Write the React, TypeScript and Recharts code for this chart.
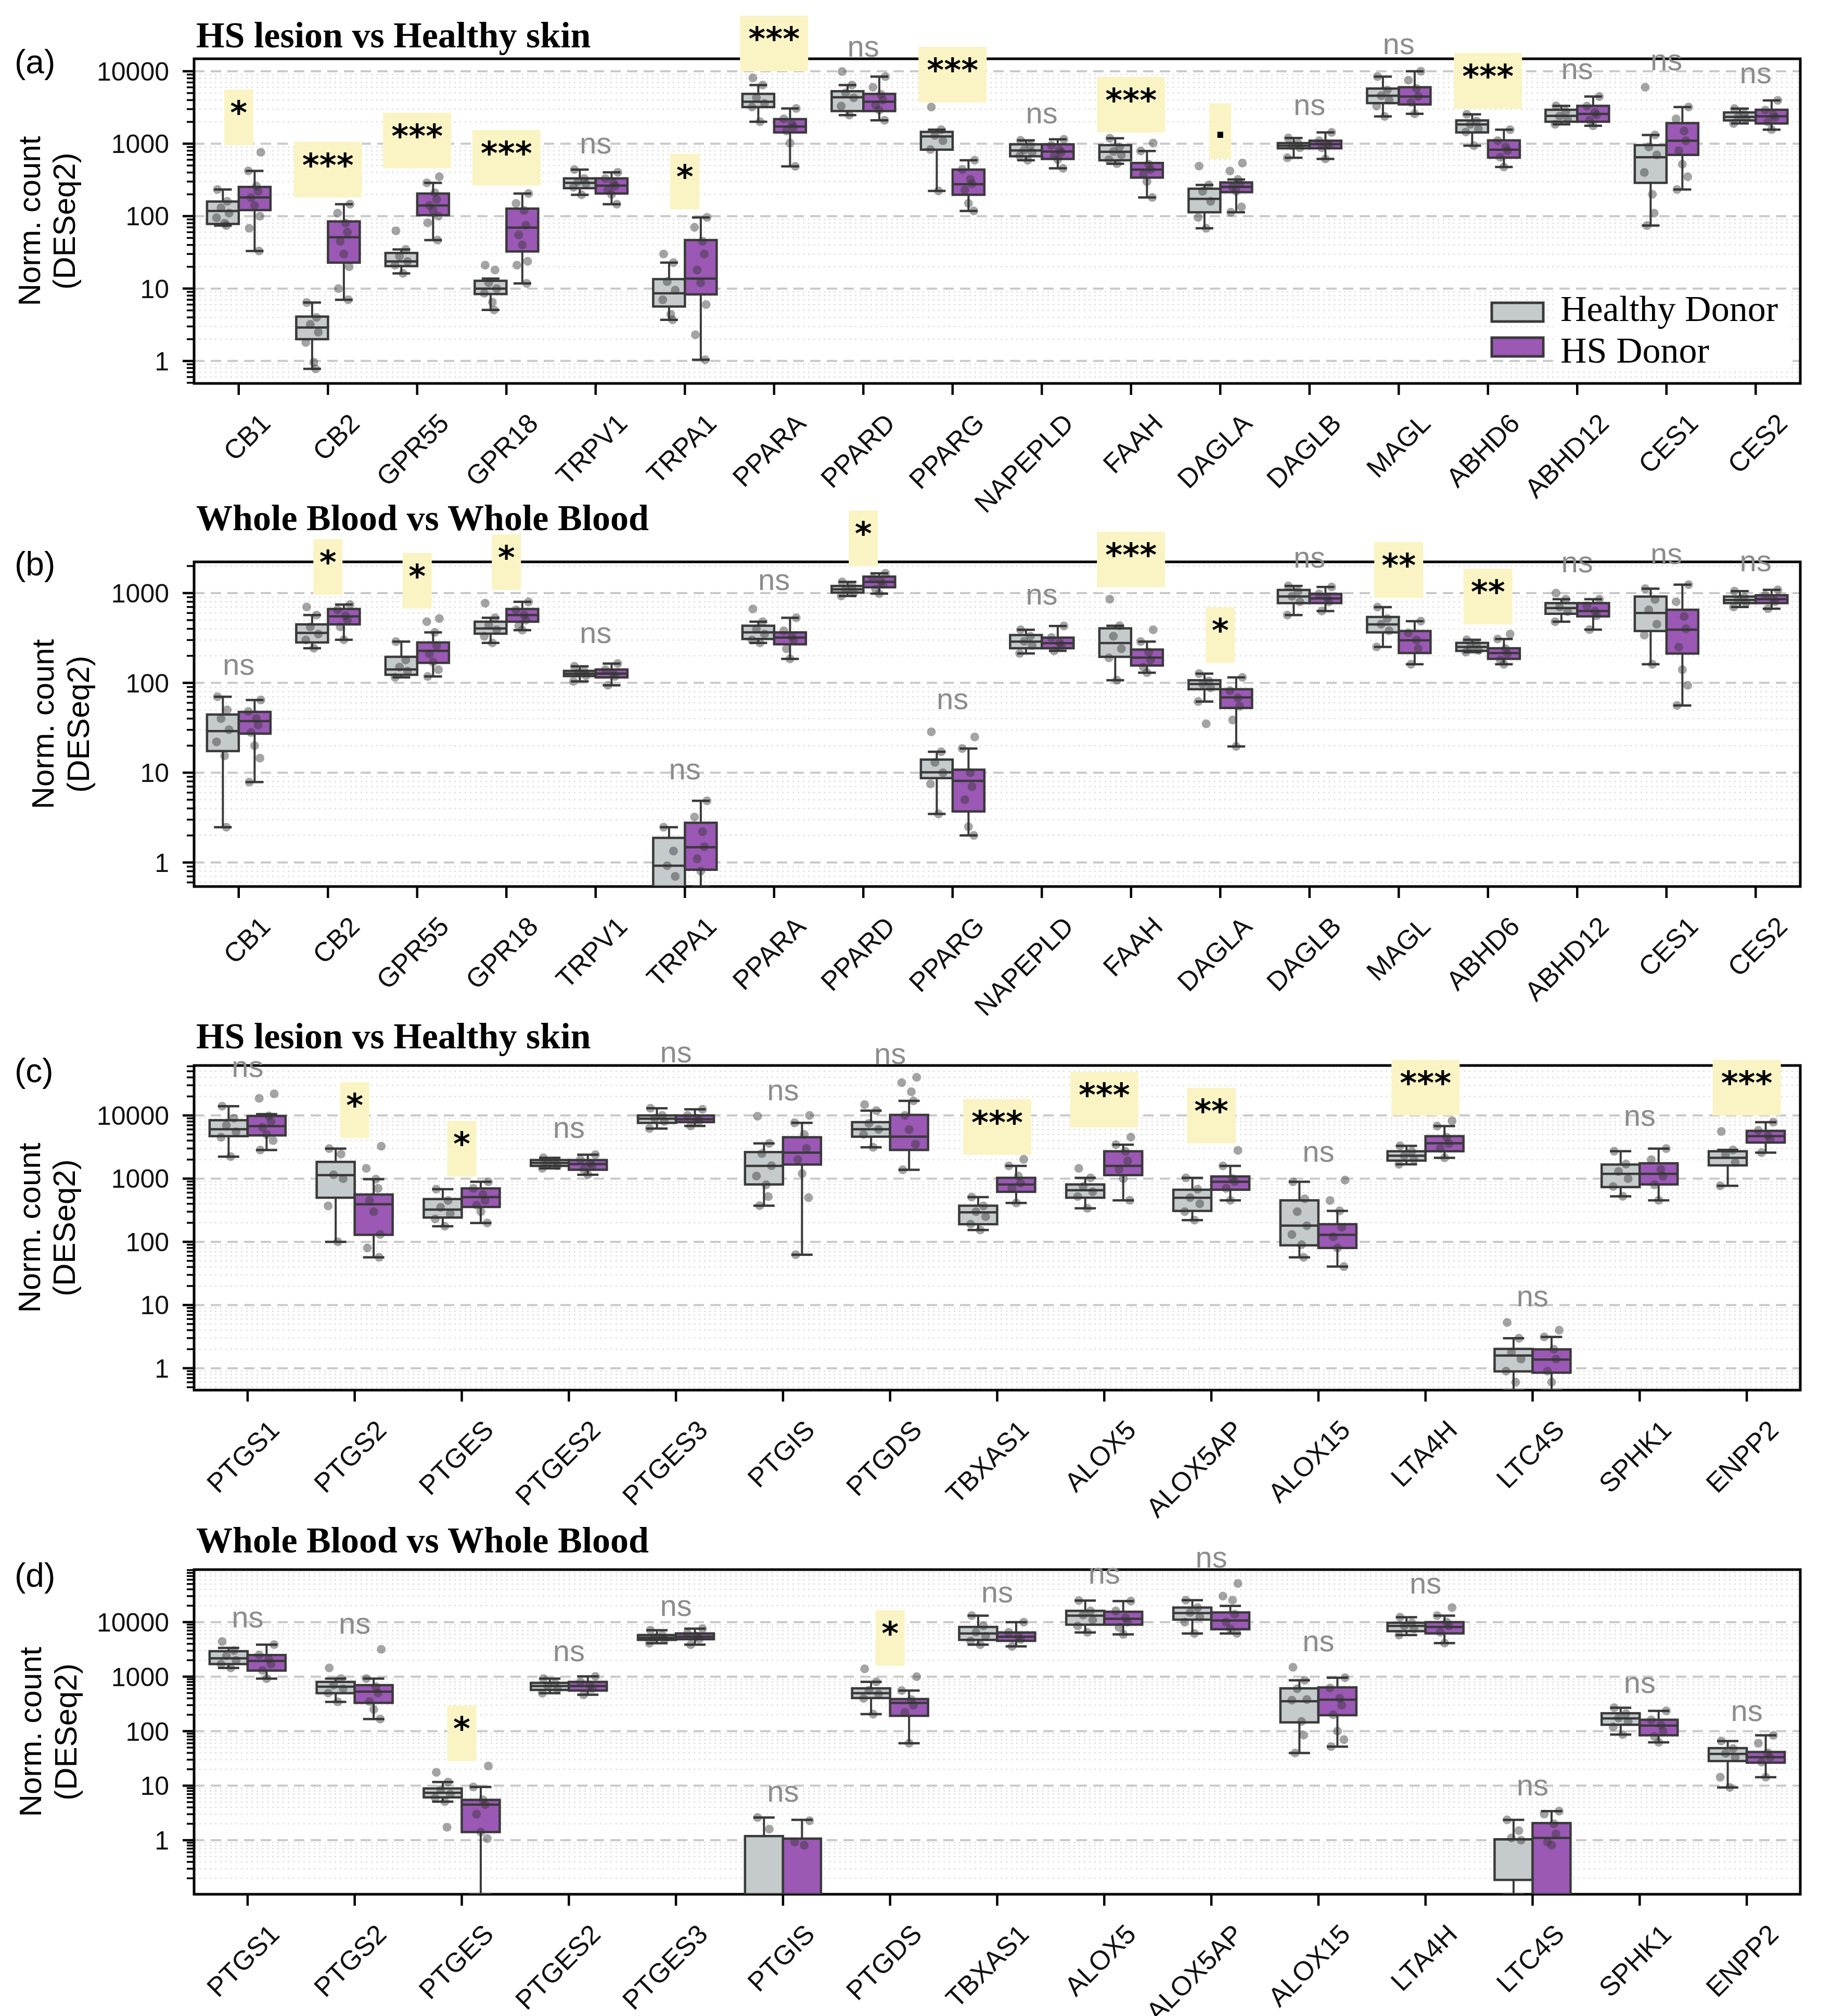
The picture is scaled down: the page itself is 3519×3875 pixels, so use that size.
import React from 'react';
import {
  ComposedChart,
  XAxis,
  YAxis,
  Bar,
  Scatter,
  CartesianGrid,
  ReferenceDot,
  ReferenceArea,
} from 'recharts';

// ---------- categories ----------
const GENES_EC = ['CB1', 'CB2', 'GPR55', 'GPR18', 'TRPV1', 'TRPA1', 'PPARA', 'PPARD', 'PPARG', 'NAPEPLD', 'FAAH', 'DAGLA', 'DAGLB', 'MAGL', 'ABHD6', 'ABHD12', 'CES1', 'CES2'];
const GENES_EIC = ['PTGS1', 'PTGS2', 'PTGES', 'PTGES2', 'PTGES3', 'PTGIS', 'PTGDS', 'TBXAS1', 'ALOX5', 'ALOX5AP', 'ALOX15', 'LTA4H', 'LTC4S', 'SPHK1', 'ENPP2'];

const GROUPS = ['Healthy Donor', 'HS Donor'];
const TITLES = ['HS lesion vs Healthy skin', 'Whole Blood vs Whole Blood', 'HS lesion vs Healthy skin', 'Whole Blood vs Whole Blood'];
const PANEL_TAGS = ['(a)', '(b)', '(c)', '(d)'];
const Y_TITLE = ['Norm. count', '(DESeq2)'];

// ---------- y axis ----------
const MAJOR_A = [1, 10, 100, 1000, 10000];
const MAJOR_B = [1, 10, 100, 1000];
const MAJOR_C = [1, 10, 100, 1000, 10000];
const MAJOR_D = [1, 10, 100, 1000, 10000];
const DOMAIN_A: [number, number] = [0.49, 14860];
const DOMAIN_B: [number, number] = [0.54, 2225];
const DOMAIN_C: [number, number] = [0.45, 61700];
const DOMAIN_D: [number, number] = [0.102, 91800];

// box statistics per gene: [lower whisker, Q1, median, Q3, upper whisker]
// ---------- (a) skin, endocannabinoid genes ----------
const A_HD_BOX = [
  [74, 78, 118, 159, 233],
  [0.78, 2.0, 2.9, 4.1, 6.4],
  [16.2, 20.4, 23.7, 31, 34.6],
  [5.07, 8.4, 10, 12.8, 13.7],
  [197, 243, 288, 332, 439],
  [3.7, 5.65, 8.6, 13.5, 22.8],
  [2010, 3200, 3790, 4870, 6440],
  [2480, 2820, 4370, 5300, 6440],
  [223, 827, 1260, 1455, 1560],
  [590, 670, 806, 980, 1110],
  [528, 590, 773, 955, 1190],
  [68, 113, 173, 239, 269],
  [640, 863, 938, 1020, 1200],
  [2380, 3630, 4590, 5770, 8450],
  [938, 1430, 1845, 2095, 2540],
  [1850, 2010, 2420, 2940, 3330],
  [74, 288, 650, 955, 1316],
  [1900, 2095, 2340, 2700, 3050],
];
const A_HS_BOX = [
  [33, 121, 181, 253, 421],
  [7, 22.8, 51, 84.5, 146],
  [46.6, 103, 140, 205, 288],
  [11.8, 32.5, 69.5, 127, 205],
  [146, 205, 264, 332, 403],
  [1.04, 8.3, 13.7, 46.7, 96],
  [486, 1430, 1725, 2185, 3060],
  [2100, 2820, 3790, 4870, 8450],
  [118, 197, 276, 439, 590],
  [457, 615, 780, 980, 1150],
  [181, 340, 439, 542, 793],
  [113, 214, 253, 292, 320],
  [615, 863, 986, 1100, 1430],
  [2590, 3480, 4480, 6020, 10000],
  [477, 641, 827, 1112, 1560],
  [1770, 2010, 2575, 3330, 4480],
  [233, 700, 1100, 1925, 3200],
  [1560, 1900, 2390, 2940, 3960],
];
const A_HD_PTS = [
  [233, 160, 130, 110, 95, 80, 74],
  [6.4, 4, 3.2, 2.5, 1.8, 0.96, 0.78],
  [62.7, 34.6, 28, 23.7, 21, 16.2],
  [21, 18, 12, 10, 8.6, 6.5, 5.07],
  [439, 330, 300, 280, 250, 197],
  [30, 22.8, 12.5, 9.5, 7, 4.4, 3.7],
  [8100, 6440, 4300, 3600, 3200, 2010],
  [9900, 6440, 5000, 4300, 3300, 2480],
  [3200, 1560, 1300, 1100, 830, 223],
  [1110, 950, 820, 760, 680, 590],
  [1190, 900, 780, 700, 600, 528],
  [490, 269, 220, 160, 96, 68],
  [1200, 1010, 940, 880, 640],
  [8450, 5500, 4600, 4000, 3300, 2380],
  [2540, 2050, 1850, 1600, 1450, 938],
  [3330, 2800, 2400, 2150, 1850],
  [6000, 1316, 900, 700, 400, 200, 110, 74],
  [3050, 2600, 2350, 2200, 1900],
];
const A_HS_PTS = [
  [760, 421, 260, 220, 180, 140, 100, 68, 33],
  [146, 110, 80, 60, 45, 30, 20, 10, 7],
  [350, 288, 210, 170, 140, 120, 100, 81, 46.6],
  [205, 150, 120, 75, 55, 40, 23.8, 21, 11.8],
  [403, 330, 290, 260, 230, 200, 146],
  [96, 70, 45, 30, 18, 12, 6, 2.3, 1.04],
  [3060, 2200, 1900, 1700, 1500, 1020, 486],
  [8450, 6000, 4800, 4000, 3400, 2900, 2100],
  [590, 440, 320, 280, 230, 150, 118],
  [1150, 950, 820, 760, 680, 600, 457],
  [1020, 793, 520, 440, 380, 300, 181],
  [540, 420, 320, 280, 250, 220, 134, 113],
  [1430, 1100, 1000, 950, 880, 615],
  [10000, 7500, 5800, 4500, 3700, 2590],
  [1560, 1100, 900, 800, 650, 477],
  [4480, 3300, 2700, 2500, 2100, 1770],
  [3200, 2200, 1500, 1100, 800, 520, 350, 233],
  [3960, 2900, 2500, 2300, 2000, 1560],
];
const A_SIG = ['*', '***', '***', '***', 'ns', '*', '***', 'ns', '***', 'ns', '***', '.', 'ns', 'ns', '***', 'ns', 'ns', 'ns'];
const A_SIG_AT = [955, 181, 457, 264, 728, 124, 10000, 15900, 3690, 1925, 1430, 615, 2480, 17300, 3060, 7760, 10400, 6840];

// ---------- (b) blood, endocannabinoid genes ----------
const B_HD_BOX = [
  [2.47, 17.4, 29, 44.4, 70],
  [243, 282, 360, 448, 569],
  [115, 123, 141, 195, 288],
  [279, 353, 404, 480, 531],
  [104, 119, 127, 136, 153],
  [0.54, 0.54, 0.92, 1.88, 2.47],
  [279, 308, 365, 433, 480],
  [930, 1013, 1100, 1200, 1330],
  [3.47, 8.7, 10.1, 14, 17.1],
  [213, 243, 288, 341, 390],
  [107, 195, 278, 405, 433],
  [62, 85, 97, 107, 127],
  [569, 773, 915, 1084, 1200],
  [251, 365, 448, 542, 697],
  [220, 227, 251, 279, 302],
  [480, 588, 682, 773, 855],
  [161, 378, 600, 915, 1120],
  [700, 773, 838, 915, 1050],
];
const B_HS_BOX = [
  [7.85, 27.2, 37.5, 47.5, 64.5],
  [302, 448, 550, 665, 746],
  [118, 167, 227, 282, 365],
  [386, 480, 569, 665, 798],
  [94, 115, 127, 141, 164],
  [0.54, 0.83, 1.48, 2.77, 4.87],
  [185, 269, 319, 365, 531],
  [985, 1160, 1330, 1525, 1660],
  [2.0, 3.7, 8.1, 10.8, 18.6],
  [227, 243, 277, 319, 430],
  [130, 156, 191, 235, 288],
  [19.6, 52.6, 69, 85, 115],
  [630, 773, 872, 980, 1170],
  [161, 215, 298, 378, 486],
  [161, 185, 215, 243, 308],
  [391, 550, 630, 773, 855],
  [56, 212, 391, 652, 1240],
  [670, 773, 855, 946, 1085],
];
const B_HD_PTS = [
  [70, 50, 40, 30, 22, 15.4, 2.47],
  [700, 569, 420, 350, 300, 243],
  [288, 180, 150, 135, 115],
  [770, 531, 440, 390, 330, 279],
  [153, 135, 128, 120, 104],
  [2.47, 1.34, 0.92, 0.7],
  [665, 480, 400, 350, 300, 279],
  [1330, 1200, 1100, 1000, 930],
  [28.5, 17.1, 13, 10, 7.5, 3.47],
  [390, 330, 290, 260, 213],
  [855, 433, 330, 240, 190, 107],
  [127, 105, 97, 88, 62, 35],
  [1200, 1050, 920, 800, 569],
  [697, 520, 450, 380, 251],
  [302, 270, 250, 230, 220],
  [1000, 855, 700, 620, 480],
  [1120, 850, 650, 450, 340, 161],
  [1050, 900, 840, 780, 700],
];
const B_HS_PTS = [
  [64.5, 48, 40, 34, 28, 20, 14.5, 7.85],
  [746, 650, 560, 500, 420, 302],
  [520, 480, 365, 260, 210, 170, 140, 118],
  [798, 650, 570, 500, 430, 386],
  [164, 140, 128, 118, 94],
  [4.87, 3.2, 2.2, 1.5, 1.1, 0.8],
  [531, 380, 330, 300, 240, 185],
  [1660, 1450, 1350, 1250, 1100, 985],
  [25, 18.6, 10, 7, 5, 2.5, 2.0],
  [430, 320, 280, 260, 227],
  [390, 288, 220, 180, 150, 130],
  [115, 82, 68, 55, 38.6, 19.6],
  [1170, 980, 880, 800, 630],
  [486, 360, 300, 240, 161],
  [350, 308, 240, 210, 180, 161],
  [855, 720, 630, 560, 391],
  [1240, 800, 550, 400, 250, 140, 94, 56],
  [1085, 940, 860, 800, 670],
];
const B_SIG = ['ns', '*', '*', '*', 'ns', 'ns', 'ns', '*', 'ns', 'ns', '***', '*', 'ns', '**', '**', 'ns', 'ns', 'ns'];
const B_SIG_AT = [123, 959, 673, 1084, 279, 8.4, 1084, 2000, 51, 746, 1160, 167, 1930, 885, 448, 1710, 2100, 1745];

// ---------- (c) skin, eicosanoid genes ----------
const C_HD_BOX = [
  [2230, 4700, 6040, 8400, 14000],
  [100, 499, 1135, 1840, 2990],
  [176, 242, 323, 475, 680],
  [1450, 1590, 1770, 1970, 2130],
  [6210, 7620, 8900, 10000, 13000],
  [373, 809, 1590, 2630, 3610],
  [3130, 4610, 6040, 7830, 11900],
  [154, 190, 293, 373, 509],
  [339, 499, 654, 809, 1030],
  [220, 308, 499, 667, 1030],
  [56.8, 88, 181, 453, 890],
  [1680, 1930, 2300, 2710, 3300],
  [0.45, 0.89, 1.59, 2.02, 2.98],
  [524, 735, 1190, 1670, 2710],
  [771, 1620, 2130, 2710, 2850],
];
const C_HS_BOX = [
  [2840, 4830, 6780, 9800, 10500],
  [56.8, 129, 392, 561, 982],
  [199, 356, 509, 700, 890],
  [1150, 1380, 1700, 1970, 2390],
  [6800, 7830, 8700, 10000, 12500],
  [62.5, 1670, 2580, 4520, 7630],
  [1380, 2840, 4610, 10200, 17000],
  [411, 618, 809, 1030, 1590],
  [453, 1135, 1590, 2710, 3450],
  [453, 667, 890, 1082, 1590],
  [40.5, 80, 129, 190, 308],
  [2130, 2710, 3620, 4700, 6780],
  [0.45, 0.85, 1.37, 1.99, 3.13],
  [453, 809, 1190, 1750, 2990],
  [2580, 3720, 4700, 5700, 7830],
];
const C_HD_PTS = [
  [14000, 9000, 7000, 5500, 4500, 2230],
  [2990, 2450, 1150, 1000, 370, 100],
  [680, 450, 350, 280, 230, 176],
  [2130, 1900, 1750, 1600, 1450],
  [13000, 10000, 9000, 8000, 6210],
  [9700, 3610, 2500, 1600, 1100, 800, 520, 373],
  [14800, 11900, 7500, 6000, 5000, 3130],
  [509, 370, 300, 250, 190, 154],
  [1450, 1030, 750, 620, 520, 339],
  [1030, 680, 500, 400, 300, 220],
  [890, 480, 300, 180, 130, 90, 56.8],
  [3300, 2700, 2300, 2000, 1680],
  [5.3, 2.98, 1.8, 1.4, 0.9, 0.6],
  [2710, 1700, 1300, 1000, 750, 524],
  [5570, 2850, 2400, 1800, 771],
];
const C_HS_PTS = [
  [22000, 18600, 9800, 8000, 6500, 5000, 4000, 2840],
  [3250, 1450, 982, 700, 450, 300, 130, 80, 56.8],
  [890, 700, 560, 450, 380, 300, 199],
  [2390, 2000, 1750, 1600, 1400, 1150],
  [12500, 10000, 9000, 8200, 6800],
  [10000, 7630, 5000, 3000, 2000, 1200, 500, 62.5],
  [40000, 33000, 23700, 17000, 10000, 6000, 3500, 1380],
  [2020, 1590, 1100, 850, 700, 411],
  [4540, 3450, 2700, 1900, 1400, 1000, 453],
  [2800, 1590, 1000, 900, 700, 453],
  [950, 450, 308, 170, 120, 80, 40.5],
  [8200, 6780, 4500, 3600, 3000, 2130],
  [4.0, 3.13, 2.0, 1.4, 0.9, 0.6],
  [2990, 2000, 1400, 1100, 800, 453],
  [7830, 5800, 4800, 4200, 2580],
];
const C_SIG = ['ns', '*', '*', 'ns', 'ns', 'ns', 'ns', '***', '***', '**', 'ns', '***', 'ns', 'ns', '***'];
const C_SIG_AT = [40500, 4400, 1080, 4400, 68900, 17300, 65700, 2390, 6460, 3620, 1840, 10000, 9.5, 6780, 10000];

// ---------- (d) blood, eicosanoid genes ----------
const D_HD_BOX = [
  [1440, 1700, 2170, 2930, 3360],
  [344, 497, 653, 801, 918],
  [5.1, 6.1, 7.4, 8.9, 11.7],
  [498, 570, 671, 769, 918],
  [4100, 4720, 5200, 5800, 7100],
  [0.102, 0.102, 0.102, 1.19, 2.6],
  [205, 405, 497, 610, 801],
  [3850, 4720, 6200, 8150, 13150],
  [6460, 8970, 13150, 16100, 24900],
  [6200, 11100, 14650, 18500, 25300],
  [39.8, 145, 353, 610, 858],
  [5800, 6820, 8490, 9730, 12300],
  [0.102, 0.187, 1.04, 1.04, 2.36],
  [86.7, 131, 171, 213, 269],
  [9.25, 28.3, 38.2, 48.9, 66],
];
const D_HS_BOX = [
  [918, 1290, 1945, 2490, 3850],
  [167, 330, 532, 699, 918],
  [0.102, 1.41, 4.5, 5.5, 9.5],
  [465, 555, 671, 801, 1010],
  [3850, 4850, 5400, 6200, 7600],
  [0.102, 0.102, 0.102, 1.07, 2.36],
  [60, 191, 330, 389, 555],
  [3590, 4530, 5400, 6460, 10000],
  [5950, 8970, 11500, 15500, 24300],
  [6200, 7400, 10700, 15050, 19800],
  [52, 196, 378, 635, 957],
  [4120, 6200, 8150, 10000, 13150],
  [0.102, 0.102, 1.1, 2.06, 3.42],
  [62.5, 84, 127, 162, 235],
  [14.3, 26.4, 33.4, 41.5, 84],
];
const D_HD_PTS = [
  [4400, 3000, 2400, 2000, 1700, 1440],
  [1440, 918, 700, 600, 500, 344],
  [17.5, 11.7, 8.5, 7, 6, 5.1, 1.73],
  [918, 760, 680, 600, 498],
  [7100, 5800, 5200, 4800, 4100],
  [2.6, 1.6],
  [1390, 801, 560, 480, 400, 205],
  [13150, 8500, 6500, 5500, 4500, 3850],
  [24900, 16000, 13500, 11000, 8500, 6460],
  [25300, 18500, 15000, 12500, 10000, 6200],
  [1480, 858, 600, 380, 370, 150, 85, 39.8],
  [12300, 9700, 8500, 7500, 5800],
  [2.36, 1.5, 1.1, 1.0],
  [269, 210, 175, 150, 120, 86.7],
  [66, 48, 39, 33, 14.3, 9.25],
];
const D_HS_PTS = [
  [3850, 2500, 2100, 1700, 1300, 918],
  [3160, 918, 650, 500, 350, 250, 167],
  [23, 9.5, 5.5, 4.5, 3, 1.41, 1.07],
  [1010, 800, 700, 600, 465],
  [7600, 6200, 5500, 4900, 3850],
  [2.27, 0.93, 0.81],
  [1000, 555, 380, 300, 220, 60],
  [10000, 6500, 5500, 4800, 3590],
  [24300, 16000, 12000, 10000, 8000, 5950],
  [51000, 30000, 25300, 14000, 10000, 7500, 6200],
  [957, 620, 400, 300, 200, 100, 70, 52],
  [18500, 13150, 10000, 8500, 6500, 4120],
  [3.42, 3.0, 2.0, 1.3, 0.93, 0.81],
  [235, 160, 130, 100, 80, 62.5],
  [84, 60, 40, 33, 27, 14.3],
];
const D_SIG = ['ns', 'ns', '*', 'ns', 'ns', 'ns', '*', 'ns', 'ns', 'ns', 'ns', 'ns', 'ns', 'ns', 'ns'];
const D_SIG_AT = [8040, 6120, 28.3, 1920, 13000, 5.07, 1585, 23000, 50700, 100000, 2890, 33600, 6.7, 504, 154];

// ---------- layout & style ----------
const W = 3519;
const PAGE_H = 3875;
const PLOT_LEFT = 373;
const PLOT_RIGHT = 3460;
const PLOT_H = 624;
const M_TOP = 140;
const M_BOTTOM = 10;
const X_AXIS_H = 300;
const PLOT_TOPS = [113, 1080, 2048, 3017];
const TITLE_BASE = [91, 1019, 2015, 2984];
const TAG_BASE = [141, 1106, 2080, 3050];
const YTITLE_X = [[77, 144], [103, 171], [77, 144], [79, 147]];

const FILL_HD = '#c5cbcd';
const FILL_HS = '#9b58b5';
const EDGE = '#3a3a3a';
const SANS = "'Liberation Sans', Arial, sans-serif";
const NARROW = "'Liberation Sans Narrow', 'Liberation Sans', Arial, sans-serif";
const SERIF = "'Liberation Serif', 'Times New Roman', serif";
const GROUP_OFFSET = 0.178;
const JITTER = [-0.06, 0.05, -0.02, 0.07, -0.07, 0.02, 0.04, -0.04, 0.0, 0.06];
const SIG_H = 107;
const SIG_W: Record<string, number> = { '.': 42, '*': 56, '**': 94, '***': 131 };

type Spec = {
  genes: string[];
  domain: [number, number];
  majors: number[];
  plotTop: number;
  hd: number[][];
  hs: number[][];
  hdPts: number[][];
  hsPts: number[][];
  sig: string[];
  sigAt: number[];
};

const PANELS: Spec[] = [
  { genes: GENES_EC, domain: DOMAIN_A, majors: MAJOR_A, plotTop: PLOT_TOPS[0], hd: A_HD_BOX, hs: A_HS_BOX, hdPts: A_HD_PTS, hsPts: A_HS_PTS, sig: A_SIG, sigAt: A_SIG_AT },
  { genes: GENES_EC, domain: DOMAIN_B, majors: MAJOR_B, plotTop: PLOT_TOPS[1], hd: B_HD_BOX, hs: B_HS_BOX, hdPts: B_HD_PTS, hsPts: B_HS_PTS, sig: B_SIG, sigAt: B_SIG_AT },
  { genes: GENES_EIC, domain: DOMAIN_C, majors: MAJOR_C, plotTop: PLOT_TOPS[2], hd: C_HD_BOX, hs: C_HS_BOX, hdPts: C_HD_PTS, hsPts: C_HS_PTS, sig: C_SIG, sigAt: C_SIG_AT },
  { genes: GENES_EIC, domain: DOMAIN_D, majors: MAJOR_D, plotTop: PLOT_TOPS[3], hd: D_HD_BOX, hs: D_HS_BOX, hdPts: D_HD_PTS, hsPts: D_HS_PTS, sig: D_SIG, sigAt: D_SIG_AT },
];

// minor log ticks (2..9 x each decade) inside the domain
function minorTicks(domain: [number, number], majors: number[]): number[] {
  const decades = [majors[0] / 10, ...majors];
  const out: number[] = [];
  decades.forEach((d) => {
    for (let m = 2; m <= 9; m++) {
      const v = +(m * d).toPrecision(6);
      if (v >= domain[0] && v <= domain[1]) out.push(v);
    }
  });
  return out;
}

const whiskerShape = (p: any) => {
  const cx = p.x + p.width / 2;
  const cap = p.width * 0.28;
  return (
    <g>
      <line x1={cx} x2={cx} y1={p.y} y2={p.y + p.height} stroke={EDGE} strokeWidth={4} />
      <line x1={cx - cap} x2={cx + cap} y1={p.y} y2={p.y} stroke={EDGE} strokeWidth={4.5} />
      <line x1={cx - cap} x2={cx + cap} y1={p.y + p.height} y2={p.y + p.height} stroke={EDGE} strokeWidth={4.5} />
    </g>
  );
};

const boxShape = (p: any) => (
  <rect x={p.x} y={p.y} width={p.width} height={Math.max(p.height, 0)} fill={p.fill} stroke={EDGE} strokeWidth={4.5} />
);

const medianShape = (p: any) => (
  <line x1={p.x} x2={p.x + p.width} y1={p.y} y2={p.y} stroke={EDGE} strokeWidth={4.5} />
);

const dotShape = (p: any) => <circle cx={p.cx} cy={p.cy} r={8.5} fill="#353535" fillOpacity={0.45} />;

const makeSig = (label: string) => (p: any) => {
  if (label === 'ns') {
    return (
      <text x={p.cx} y={p.cy} textAnchor="middle" fontSize={58} fontFamily={NARROW} fill="#8c8c8c">
        ns
      </text>
    );
  }
  const w = SIG_W[label] ?? 56;
  return (
    <g>
      <rect x={p.cx - w / 2} y={p.cy - SIG_H} width={w} height={SIG_H} fill="#faf4c4" />
      <text x={p.cx} y={p.cy - SIG_H + 66} textAnchor="middle" fontSize={63} fontWeight="bold" fontFamily="'DejaVu Sans', sans-serif" fill="#000">
        {label}
      </text>
    </g>
  );
};

const XTick = (p: any) => (
  <g>
    <line x1={p.x} x2={p.x} y1={p.y} y2={p.y + 22} stroke="#000" strokeWidth={4.5} />
    <text x={0} y={0} transform={`translate(${p.x + 64},${p.y + 80}) rotate(-45)`} textAnchor="end" fontSize={52} fontFamily={SANS} fill="#111">
      {p.payload.value}
    </text>
  </g>
);

const makeYTick = (majors: number[]) => (p: any) => {
  const v = p.payload.value;
  const isMajor = majors.includes(v);
  return (
    <g>
      <line x1={p.x - (isMajor ? 22 : 14)} x2={p.x} y1={p.y} y2={p.y} stroke="#000" strokeWidth={isMajor ? 4.5 : 3.5} />
      {isMajor && (
        <text x={p.x - 48} y={p.y} dy="0.36em" textAnchor="end" fontSize={50} fontFamily={SANS} fill="#111">
          {String(v)}
        </text>
      )}
    </g>
  );
};

function Panel({ spec }: { spec: Spec }) {
  const n = spec.genes.length;
  const rows = spec.genes.map((g, i) => ({
    gene: g,
    hdW: [spec.hd[i][0], spec.hd[i][4]],
    hdB: [spec.hd[i][1], spec.hd[i][3]],
    hdM: [spec.hd[i][2], spec.hd[i][2]],
    hsW: [spec.hs[i][0], spec.hs[i][4]],
    hsB: [spec.hs[i][1], spec.hs[i][3]],
    hsM: [spec.hs[i][2], spec.hs[i][2]],
  }));
  const points: { x: number; y: number }[] = [];
  spec.hdPts.forEach((vals, i) =>
    vals.forEach((v, k) => points.push({ x: i - GROUP_OFFSET + JITTER[k % JITTER.length], y: v }))
  );
  spec.hsPts.forEach((vals, i) =>
    vals.forEach((v, k) => points.push({ x: i + GROUP_OFFSET + JITTER[(k + 3) % JITTER.length], y: v }))
  );
  const minors = minorTicks(spec.domain, spec.majors);
  const yTicks = [...minors, ...spec.majors].sort((a, b) => a - b);
  const chartH = M_TOP + PLOT_H + X_AXIS_H + M_BOTTOM;

  return (
    <div style={{ position: 'absolute', left: 0, top: spec.plotTop - M_TOP }}>
      <ComposedChart
        width={W}
        height={chartH}
        data={rows}
        margin={{ top: M_TOP, right: W - PLOT_RIGHT, bottom: M_BOTTOM, left: 0 }}
        barCategoryGap="14.5%"
        barGap={0}
      >
        <CartesianGrid xAxisId="main" yAxisId="y" vertical={false} horizontalValues={minors} stroke="#dedede" strokeWidth={2.5} strokeDasharray="3 7" />
        <CartesianGrid xAxisId="main" yAxisId="y" vertical={false} horizontalValues={spec.majors} stroke="#c9c9c9" strokeWidth={4} strokeDasharray="20 12" />
        <XAxis xAxisId="main" dataKey="gene" type="category" interval={0} tickLine={false} axisLine={false} tickSize={0} tickMargin={0} height={X_AXIS_H} tick={XTick} />
        <XAxis xAxisId="w" dataKey="gene" type="category" height={0} hide />
        <XAxis xAxisId="b" dataKey="gene" type="category" height={0} hide />
        <XAxis xAxisId="m" dataKey="gene" type="category" height={0} hide />
        <XAxis xAxisId="num" dataKey="x" type="number" domain={[-0.5, n - 0.5]} allowDataOverflow height={0} hide />
        <YAxis
          yAxisId="y"
          type="number"
          scale="log"
          domain={spec.domain}
          allowDataOverflow
          ticks={yTicks}
          interval={0}
          width={PLOT_LEFT}
          tickLine={false}
          axisLine={false}
          tickSize={0}
          tickMargin={0}
          tick={makeYTick(spec.majors)}
        />
        <YAxis yAxisId="py" dataKey="y" type="number" scale="log" domain={spec.domain} allowDataOverflow width={0} hide />
        <Bar xAxisId="w" yAxisId="y" dataKey="hdW" shape={whiskerShape} isAnimationActive={false} legendType="none" />
        <Bar xAxisId="w" yAxisId="y" dataKey="hsW" shape={whiskerShape} isAnimationActive={false} legendType="none" />
        <Bar xAxisId="b" yAxisId="y" dataKey="hdB" name={GROUPS[0]} fill={FILL_HD} shape={boxShape} isAnimationActive={false} />
        <Bar xAxisId="b" yAxisId="y" dataKey="hsB" name={GROUPS[1]} fill={FILL_HS} shape={boxShape} isAnimationActive={false} />
        <Bar xAxisId="m" yAxisId="y" dataKey="hdM" shape={medianShape} isAnimationActive={false} legendType="none" />
        <Bar xAxisId="m" yAxisId="y" dataKey="hsM" shape={medianShape} isAnimationActive={false} legendType="none" />
        <Scatter xAxisId="num" yAxisId="py" data={points} dataKey="y" shape={dotShape} isAnimationActive={false} legendType="none" />
        <ReferenceArea
          xAxisId="main"
          yAxisId="y"
          x1={spec.genes[0]}
          x2={spec.genes[n - 1]}
          y1={spec.domain[0]}
          y2={spec.domain[1]}
          ifOverflow="visible"
          fill="none"
          fillOpacity={0}
          stroke="#000"
          strokeWidth={5}
        />
        {spec.genes.map((g, i) => (
          <ReferenceDot key={g} xAxisId="main" yAxisId="y" x={g} y={spec.sigAt[i]} ifOverflow="visible" shape={makeSig(spec.sig[i])} />
        ))}
      </ComposedChart>
    </div>
  );
}

function Overlay() {
  const centers = PLOT_TOPS.map((t) => t + PLOT_H / 2);
  return (
    <svg width={W} height={PAGE_H} style={{ position: 'absolute', left: 0, top: 0, pointerEvents: 'none' }}>
      {TITLES.map((t, i) => (
        <text key={'t' + i} x={377} y={TITLE_BASE[i]} fontFamily={SERIF} fontSize={70} fontWeight="bold" fill="#000">
          {t}
        </text>
      ))}
      {PANEL_TAGS.map((t, i) => (
        <text key={'g' + i} x={28} y={TAG_BASE[i]} fontFamily={SANS} fontSize={64} fill="#000">
          {t}
        </text>
      ))}
      {centers.map((cy, i) => (
        <g key={'y' + i}>
          <text transform={`translate(${YTITLE_X[i][0]},${cy}) rotate(-90)`} textAnchor="middle" fontFamily={SANS} fontSize={60} fill="#000">
            {Y_TITLE[0]}
          </text>
          <text transform={`translate(${YTITLE_X[i][1]},${cy}) rotate(-90)`} textAnchor="middle" fontFamily={SANS} fontSize={60} fill="#000">
            {Y_TITLE[1]}
          </text>
        </g>
      ))}
      {/* legend inside panel (a) */}
      <rect x={2985} y={560} width={455} height={148} fill="#fff" />
      <rect x={2867} y={582} width={99} height={36} fill={FILL_HD} stroke={EDGE} strokeWidth={5} />
      <rect x={2867} y={649} width={99} height={36} fill={FILL_HS} stroke={EDGE} strokeWidth={5} />
      <text x={2999} y={617} fontFamily={SERIF} fontSize={70} fill="#000">
        {GROUPS[0]}
      </text>
      <text x={2999} y={697} fontFamily={SERIF} fontSize={70} fill="#000">
        {GROUPS[1]}
      </text>
    </svg>
  );
}

export default function App() {
  return (
    <div style={{ position: 'absolute', left: 0, top: 0, width: W, height: PAGE_H, background: '#fff', overflow: 'hidden' }}>
      {PANELS.map((s, i) => (
        <Panel key={i} spec={s} />
      ))}
      <Overlay />
    </div>
  );
}
